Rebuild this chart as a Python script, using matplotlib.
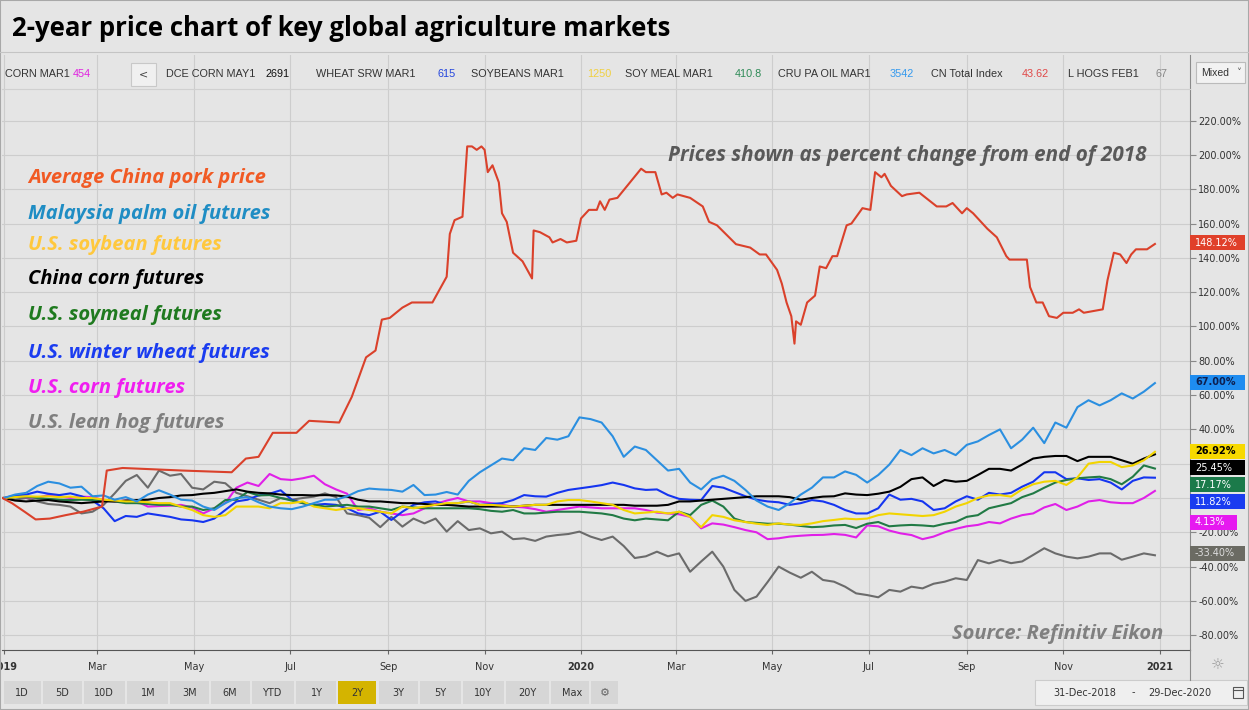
import pandas as pd
import numpy as np
import matplotlib
matplotlib.use('Agg')
import matplotlib.pyplot as plt
import matplotlib.transforms as mtransforms
from matplotlib.patches import Rectangle
from matplotlib.lines import Line2D

W, H = 1249, 710
BG = '#e5e5e5'

# weekly closes of the futures, percent change from end of 2018
weeks = pd.date_range('2019-01-01', '2020-12-29', freq='7D')

palm_oil = [0, 2, 3, 7, 9.5, 8.5, 6, 6.6, 1, 1.5,
            -1, 0.5, -2, 2, 4.5, 2, -1, -1.5, -5, -7,
            -3, 0, 0.5, -2.5, -5, -6, -6.5, -5, -3, -1,
            -1, 1, 4, 5.5, 5, 4.7, 3.7, 7.6, 1.7, 2,
            3.5, 2, 10, 15, 19, 23, 22, 29, 28, 35,
            34, 36, 47, 46, 44, 36, 24, 30, 28, 22,
            16, 17, 9, 5, 11, 13, 10, 4.7, -1.5, -5,
            -7, -3, 2, 6, 12, 12, 15.5, 13.5, 9, 13.4,
            19.5, 28, 25, 29, 26, 28, 25, 31, 33, 36.7,
            40, 29, 34, 41, 32, 44, 41, 53, 57, 54,
            57, 61, 58, 62, 67.00]

china_corn = [0, -1.5, -2, -1.5, -1.2, -2, -2.5, -3, -2.5, -2,
              -2, -1.5, -1.2, -1, 0, 0.5, 1.5, 1.7, 2.5, 3,
              4, 5, 3.7, 3, 2.7, 2, 1.7, 1.7, 1.5, 1.7,
              1.5, 0.8, -1, -2, -2, -2.5, -3, -3, -3.5, -4,
              -4, -4.5, -5, -5, -5, -5, -5, -4.5, -4, -4,
              -4, -4, -4, -4, -4, -4, -4, -4.5, -4.5, -4.5,
              -4, -2, -2, -1.5, -1, -0.5, 0, 0.5, 1, 1,
              1, 0.5, -1, 0, 0.8, 1, 2.7, 2, 1.7, 2.5,
              3.7, 6.5, 11, 12, 7, 10.5, 9.5, 10, 13.4, 17,
              17, 16, 19.5, 23, 24, 24.5, 24.5, 21.5, 24, 24,
              24, 22, 20, 23, 25.45]

soybeans = [0, 0.5, 1, 0.8, 1, 0.5, 0.8, 0, 0, -1,
            -1.5, -2, -2, -2.5, -3, -3, -5, -7, -10, -11,
            -10, -5, -5, -5, -6, -3, -3, -2, -5, -6,
            -7, -6, -6, -7, -8, -9, -5, -6, -5, -4,
            -3, -3, -2, -4, -4, -4.5, -5, -4.5, -4, -4,
            -2, -1.2, -1.2, -2, -3, -4, -7, -9, -8.5, -8,
            -9, -8, -11, -17, -10, -11, -13, -14, -15, -15.7,
            -14.8, -15.5, -15.7, -14.8, -13.5, -12.8, -12, -12.4, -12, -10,
            -9, -9.5, -10, -10.5, -10, -8, -5, -3, 0, 1.5,
            1.7, 0.8, 5, 8, 9.5, 10, 7.6, 12, 20, 21,
            21, 18, 19, 22, 26.92]

soymeal = [0, 0.5, 0.8, 0, -0.5, -1, -1.2, -1, -1.2, -1.5,
           -2, -3, -3, -3.5, -4, -4, -5, -5, -7, -6,
           -1.2, -1, 3.5, 1.5, 1.7, 0, -1.5, -3, -4, -5,
           -4.5, -4, -5, -5, -6, -7, -5, -5.5, -6, -6,
           -6, -6, -6, -6.5, -7.5, -8, -7, -9, -9, -8.5,
           -8, -8, -8, -8.5, -9, -10, -12, -13, -12, -12.5,
           -13, -8, -10, -4, -1.5, -5, -12, -14, -14.5, -15,
           -15, -15.5, -16.3, -17, -16.7, -16, -15.7, -17.5, -15, -14,
           -16.5, -16, -15.7, -16, -16.5, -15, -14, -11, -10, -6,
           -4.5, -3, 0.5, 2.7, 6, 9, 10.5, 11.5, 12, 12.4,
           11, 8, 12.4, 19, 17.17]

wheat = [0, 1.5, 2, 3.7, 2.5, 1.7, 2.7, 1, -1.5, -6,
         -13.5, -10.5, -11, -9, -10, -11, -12.5, -13, -14, -12,
         -7, -2, -1, 1.5, 2.5, 4.5, -1, -3, -4, -3.5,
         -4, -6, -9, -10, -8, -12.8, -8, -4, -2.5, -2,
         -4, -3, -2, -4, -3.5, -3, -1.2, 1.7, 1, 0.8,
         3, 4.7, 5.6, 6.5, 7.5, 9, 7.6, 5.6, 4.7, 5,
         1.7, -0.5, -1, -1.2, 7, 6, 3.5, 1, -1, -2,
         -2.5, -4, -3, -1.2, -2, -4, -7, -9, -9, -6,
         2, -1, -0.5, -2, -7, -6, -2, 1, -1, 3,
         2, 3, 6.6, 9.5, 15, 15, 11, 11.5, 10.5, 11,
         9, 5, 10, 12, 11.82]

us_corn = [0, 0.8, 0.5, 0, 1.7, 1, 0, 0.8, 0.5, -1.2,
           -2, -1.5, -2, -5, -4.7, -4.5, -4, -5.5, -9, -6,
           -3, 6, 9, 7, 14, 11, 10.5, 11.5, 13, 8,
           5, 2.5, -7, -6, -8, -9, -10, -9, -6, -3.5,
           -1.5, 0, -2, -2, -3, -4, -5, -5.5, -6.5, -8,
           -7, -6, -5, -5.5, -6, -6, -6, -6, -7, -8.5,
           -9, -9.5, -11, -17.7, -14.8, -15.5, -17, -18.7, -20, -24,
           -23.5, -22.5, -22, -21.6, -21.5, -21, -21.5, -23, -16, -16.5,
           -19, -20.6, -21.6, -24, -22.5, -20, -18, -16.5, -15.7, -14,
           -14.8, -12, -10, -9, -5.5, -3.5, -7, -5, -2, -1.2,
           -2.5, -3, -3, 0, 4.13]

lean_hogs = [0, -1, 0, -2, -3.5, -4, -5, -9, -8, -4,
             2.7, 10, 13.4, 6, 16, 13, 14, 6, 5, 9.5,
             8.6, 3, 1, -1, -3, 0, -1, 0, 0.8, 2.7,
             0.5, -9, -10, -11.5, -17, -11, -16.7, -12, -14.8, -12,
             -19.6, -13.5, -18.7, -17.7, -20.6, -19.6, -24, -23.5, -25, -22.5,
             -21.6, -21, -19.6, -22.5, -24.5, -22.5, -28, -35, -34, -31.3,
             -34, -32.3, -43, -37, -31.3, -40, -53.6, -60, -57.5, -49,
             -40, -43.5, -46.5, -43, -47.8, -48.8, -51.7, -55.6, -56.6, -57.9,
             -53.6, -54.6, -51.7, -52.7, -50, -48.8, -46.8, -47.8, -36.2, -38.1,
             -36.2, -38, -37, -33.2, -29.3, -32.3, -34.2, -35.2, -34.2, -32.3,
             -32.3, -36, -34.2, -32.3, -33.40]

# China pork price index (irregular observation dates)
pork_dates = ['2018-12-31', '2019-01-06', '2019-01-14', '2019-01-21', '2019-01-30', '2019-02-09',
              '2019-02-20', '2019-02-28', '2019-03-04', '2019-03-07', '2019-03-17', '2019-04-24',
              '2019-05-25', '2019-06-03', '2019-06-11', '2019-06-20', '2019-07-05', '2019-07-13',
              '2019-08-01', '2019-08-09', '2019-08-18', '2019-08-24', '2019-08-28', '2019-09-02',
              '2019-09-10', '2019-09-16', '2019-09-29', '2019-10-08', '2019-10-10', '2019-10-13',
              '2019-10-18', '2019-10-21', '2019-10-24', '2019-10-27', '2019-10-30', '2019-11-01',
              '2019-11-03', '2019-11-06', '2019-11-10', '2019-11-12', '2019-11-15', '2019-11-19',
              '2019-11-25', '2019-12-01', '2019-12-02', '2019-12-06', '2019-12-12', '2019-12-14',
              '2019-12-19', '2019-12-23', '2019-12-29', '2020-01-01', '2020-01-06', '2020-01-11',
              '2020-01-13', '2020-01-16', '2020-01-19', '2020-01-24', '2020-02-08', '2020-02-11',
              '2020-02-17', '2020-02-21', '2020-02-24', '2020-02-28', '2020-03-02', '2020-03-10',
              '2020-03-18', '2020-03-22', '2020-03-27', '2020-04-08', '2020-04-17', '2020-04-23',
              '2020-04-27', '2020-05-04', '2020-05-07', '2020-05-10', '2020-05-13', '2020-05-15',
              '2020-05-16', '2020-05-19', '2020-05-23', '2020-05-28', '2020-05-31', '2020-06-04',
              '2020-06-08', '2020-06-11', '2020-06-17', '2020-06-20', '2020-06-27', '2020-07-02',
              '2020-07-05', '2020-07-09', '2020-07-11', '2020-07-15', '2020-07-22', '2020-07-25',
              '2020-08-02', '2020-08-13', '2020-08-19', '2020-08-23', '2020-08-29', '2020-09-01',
              '2020-09-05', '2020-09-14', '2020-09-20', '2020-09-26', '2020-09-28', '2020-10-09',
              '2020-10-11', '2020-10-15', '2020-10-19', '2020-10-23', '2020-10-28', '2020-11-01',
              '2020-11-07', '2020-11-11', '2020-11-14', '2020-11-26', '2020-11-29', '2020-12-03',
              '2020-12-07', '2020-12-11', '2020-12-14', '2020-12-17', '2020-12-24', '2020-12-29']
pork = [0, -3, -8, -12.5, -12, -10,
        -8, -6, -5, 16, 17.5, 16,
        15, 23, 24, 38, 38, 45,
        44, 59, 82, 86, 104, 105,
        111, 114, 114, 129, 154, 162,
        164, 205, 205, 203, 205, 203,
        190, 194, 184, 166, 161, 143,
        138, 128, 156, 155, 152, 149,
        151, 149, 150, 163, 168, 168,
        173, 168, 174, 175, 192, 190,
        190, 177, 178, 175, 177, 175,
        170, 161, 159, 148, 146, 142,
        142, 133, 125, 114, 106, 90,
        103, 101, 114, 118, 135, 134,
        141, 141, 159, 160, 169, 168,
        190, 187, 189, 182, 176, 177,
        178, 170, 170, 172, 166, 169,
        166, 157, 152, 141, 139, 139,
        123, 114, 114, 106, 105, 108,
        108, 110, 108, 110, 127, 143,
        142, 137, 142, 145, 145, 148.12]

names = ['Average China pork price', 'Malaysia palm oil futures', 'U.S. soybean futures',
         'China corn futures', 'U.S. soymeal futures', 'U.S. winter wheat futures',
         'U.S. corn futures', 'U.S. lean hog futures']
name_colors = ['#f15a24', '#1f8dc4', '#ffc83d', '#000000', '#1f7a1f', '#1a3cf0', '#f01ef0', '#7f7f7f']
line_colors = ['#da412b', '#2b8fe0', '#f2d400', '#000000', '#217a45', '#1535f0', '#e020e8', '#6b6b6b']
box_colors = ['#e0402a', '#1e8cf0', '#f7d900', '#000000', '#1b7a4a', '#1a3cf0', '#e619f0', '#6b6b63']
box_text = ['white', '#0d1f4f', 'black', 'white', 'white', 'white', 'white', '#dddddd']
series = [pork, palm_oil, soybeans, china_corn, soymeal, wheat, us_corn, lean_hogs]
# y slots (in %) where the last-value boxes are stacked on the right axis
box_slots = [148.7, 67.6, 27.4, 17.5, 7.6, -2.3, -14.0, -32.1]

tickers = ['CORN MAR1', 'DCE CORN MAY1', 'WHEAT SRW MAR1', 'SOYBEANS MAR1', 'SOY MEAL MAR1',
           'CRU PA OIL MAR1', 'CN Total Index', 'L HOGS FEB1']
ticker_vals = ['454', '2691', '615', '1250', '410.8', '3542', '43.62', '67']
ticker_cols = ['#e020e0', '#111111', '#2244dd', '#f0d040', '#2e8b57', '#3399ee', '#e04848', '#888888']
ticker_x = [5, 166, 316, 471, 625, 778, 931, 1068]
ticker_vx = [73, 265, 437, 587, 735, 890, 1022, 1155]

month_ticks = pd.date_range('2019-01-01', '2021-01-01', freq='2MS')
month_labels = ['2019', 'Mar', 'May', 'Jul', 'Sep', 'Nov', '2020',
                'Mar', 'May', 'Jul', 'Sep', 'Nov', '2021']
pct_ticks = list(range(-80, 221, 20))

buttons = ['1D', '5D', '10D', '1M', '3M', '6M', 'YTD', '1Y', '2Y', '3Y', '5Y', '10Y', '20Y', 'Max']
button_x = [22, 62, 104, 148, 190, 230, 272, 317, 357, 398, 440, 483, 527, 572]


def fx(x):
    return x / W


def fy(y):
    return 1 - y / H


fig = plt.figure(figsize=(W / 100, H / 100), dpi=100, facecolor=BG)
ax = fig.add_axes([fx(2), fy(650), fx(1190) - fx(2), fy(55) - fy(650)])
ax.set_facecolor(BG)

draw_order = [7, 6, 5, 4, 2, 1, 3, 0]
for i in draw_order:
    if i == 0:
        ax.plot(pd.to_datetime(pork_dates), pork, color=line_colors[i], lw=1.5, zorder=3,
                solid_joinstyle='round')
    else:
        ax.plot(weeks, series[i], color=line_colors[i], lw=1.5, zorder=2 + (8 - i) * 0.01,
                solid_joinstyle='round')

ax.set_xlim(pd.Timestamp('2018-12-30 17:40'), pd.Timestamp('2021-01-20 04:30'))
ax.set_ylim(-88.63, 258.3)

ax.set_xticks(month_ticks)
ax.set_xticklabels(month_labels)
for lab in ax.get_xticklabels():
    if lab.get_text().isdigit():
        lab.set_fontweight('bold')
ax.tick_params(axis='x', length=3, color='#666666', labelsize=7, labelcolor='#333333', pad=6)

ax.yaxis.tick_right()
ax.set_yticks(pct_ticks)
ax.set_yticklabels([f'{v:.2f}%' for v in pct_ticks])
ax.tick_params(axis='y', length=4, color='#888888', labelsize=7, labelcolor='#333333', pad=2)

ax.grid(True, color='#cdcdcd', lw=0.8)
ax.set_axisbelow(True)
for s in ['top', 'left']:
    ax.spines[s].set_visible(False)
ax.spines['right'].set_color('#8a8a8a')
ax.spines['bottom'].set_color('#555555')

# last-value boxes on the right axis
trans = mtransforms.blended_transform_factory(ax.transAxes, ax.transData)
bh = 15 / 1.715
for i in range(8):
    last = series[i][-1]
    txt = f'{last:.2f}%'
    bw = (47 if len(txt) < 6 else 55) / 1188
    ax.add_patch(Rectangle((1.0, box_slots[i] - bh / 2), bw, bh, transform=trans,
                           facecolor=box_colors[i], edgecolor='none', clip_on=False, zorder=5))
    ax.text(1.0 + 5 / 1188, box_slots[i], txt, transform=trans, color=box_text[i], fontsize=7,
            va='center', ha='left', clip_on=False, zorder=6,
            fontweight='bold' if i in (1, 2) else 'normal')

# series names
name_y = [178, 214, 245, 279, 315, 353, 388, 423]
for i in range(8):
    fig.text(fx(28), fy(name_y[i]), names[i], color=name_colors[i], fontsize=14.5,
             family='Open Sans', fontweight='bold', style='italic', va='center', ha='left')

fig.text(fx(1146), fy(156), 'Prices shown as percent change from end of 2018', color='#595959',
         fontsize=14.9, family='Open Sans', fontweight='bold', style='italic', va='center', ha='right')
fig.text(fx(1163), fy(634), 'Source: Refinitiv Eikon', color='#808080',
         fontsize=14.5, family='Open Sans', fontweight='bold', style='italic', va='center', ha='right')

# title
fig.text(fx(12), fy(28), '2-year price chart of key global agriculture markets', color='black',
         fontsize=18.5, family='Open Sans', fontweight='bold', va='center', ha='left')
fig.add_artist(Line2D([0, 1], [fy(52), fy(52)], color='#c4c4c4', lw=0.8))

# ticker strip
for i in range(len(tickers)):
    fig.text(fx(ticker_x[i]), fy(74), tickers[i], color='#333333', fontsize=7.8,
             family='Liberation Sans', va='center', ha='left')
    fig.text(fx(ticker_vx[i]), fy(74), ticker_vals[i], color=ticker_cols[i], fontsize=7.8,
             family='Liberation Sans', va='center', ha='left')
fig.add_artist(Rectangle((fx(131), fy(86)), fx(25), fy(63) - fy(86), facecolor='#f0f0f0',
                         edgecolor='#c8c8c8', lw=0.8))
fig.text(fx(143.5), fy(74), '<', color='#444444', fontsize=8, va='center', ha='center')
fig.add_artist(Line2D([fx(2), fx(1190)], [fy(89), fy(89)], color='#d0d0d0', lw=0.8))
fig.add_artist(Rectangle((fx(1196), fy(83)), fx(49), fy(62) - fy(83), facecolor='#f2f2f2',
                         edgecolor='#bbbbbb', lw=0.8))
fig.text(fx(1201), fy(73), 'Mixed', color='#333333', fontsize=7.5, family='Liberation Sans',
         va='center', ha='left')
fig.text(fx(1236), fy(73), '\u02c5', color='#555555', fontsize=7, va='center', ha='left')

# right axis line continues below the plot
fig.add_artist(Line2D([fx(1190), fx(1190)], [fy(650), fy(680)], color='#8a8a8a', lw=0.8))
fig.text(fx(1218), fy(665), '\u263c', color='#9a9a9a', fontsize=11, va='center', ha='center')

# range buttons
edges = [3] + [(button_x[i] + button_x[i + 1]) / 2 for i in range(len(button_x) - 1)] + [590]
for i, b in enumerate(buttons):
    fc = '#d4b400' if b == '2Y' else '#d6d6d6'
    fig.add_artist(Rectangle((fx(edges[i] + 1), fy(704)), fx(edges[i + 1] - edges[i] - 2),
                             fy(681) - fy(704), facecolor=fc, edgecolor='none'))
    fig.text(fx(button_x[i]), fy(692.5), b, color='#333333', fontsize=7, va='center', ha='center')
fig.add_artist(Rectangle((fx(591), fy(704)), fx(27), fy(681) - fy(704), facecolor='#d6d6d6',
                         edgecolor='none'))
fig.text(fx(605), fy(692.5), '\u2699', color='#666666', fontsize=8, va='center', ha='center')

# date range box
fig.add_artist(Rectangle((fx(1035), fy(705)), fx(212), fy(680) - fy(705), facecolor='#efefef',
                         edgecolor='#cccccc', lw=0.8))
fig.text(fx(1085), fy(692.5), '31-Dec-2018', color='#333333', fontsize=7, va='center', ha='center')
fig.text(fx(1133), fy(692.5), '-', color='#333333', fontsize=7, va='center', ha='center')
fig.text(fx(1180), fy(692.5), '29-Dec-2020', color='#333333', fontsize=7, va='center', ha='center')
fig.add_artist(Rectangle((fx(1233), fy(698)), fx(10), fy(687) - fy(698), facecolor='none',
                         edgecolor='#555555', lw=0.8))
fig.add_artist(Line2D([fx(1233), fx(1243)], [fy(690), fy(690)], color='#555555', lw=0.8))

# outer frame
fig.add_artist(Rectangle((0, 0), 1, 1, facecolor='none', edgecolor='#a8a8a8', lw=1.5))

fig.savefig('out.png', dpi=100, facecolor=BG)
